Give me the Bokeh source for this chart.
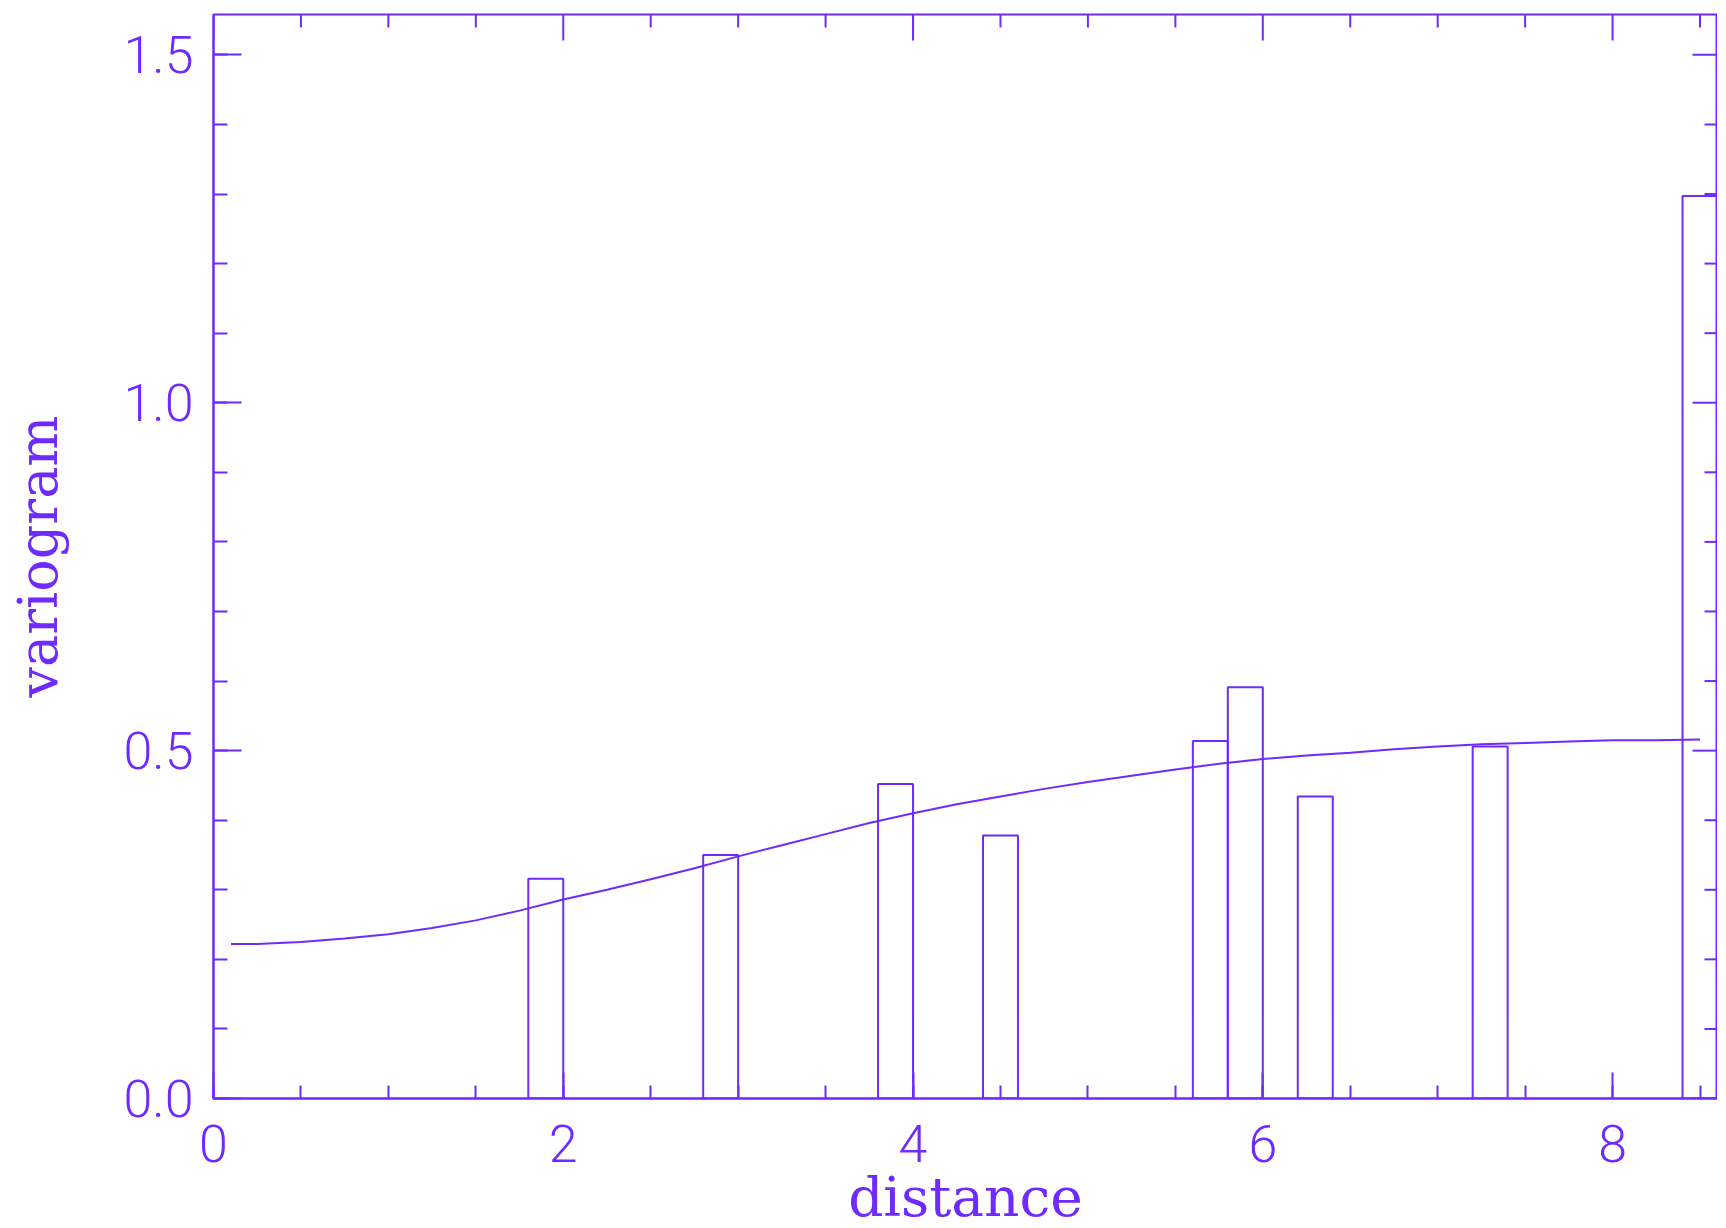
import math
import numpy as np
from bokeh.plotting import figure
from bokeh.models import Range1d, LinearAxis, SingleIntervalTicker, PrintfTickFormatter
from bokeh.embed import file_html
from bokeh.resources import INLINE

# --- data ---
# experimental variogram bins (lag-class centres, bin width 0.2)
lag_centers = [1.9, 2.9, 3.9, 4.5, 5.7, 5.9, 6.3, 7.3, 8.5]
gamma_values = [0.316, 0.350, 0.452, 0.378, 0.514, 0.591, 0.434, 0.506, 1.297]
bin_width = 0.2

# fitted model curve
model_dist = [0.1, 0.25, 0.5, 0.75, 1.0, 1.25, 1.5, 1.75, 2.0, 2.25, 2.5, 2.75,
              3.0, 3.25, 3.5, 3.75, 4.0, 4.25, 4.5, 4.75, 5.0, 5.25, 5.5, 5.75,
              6.0, 6.25, 6.5, 6.75, 7.0, 7.25, 7.5, 7.75, 8.0, 8.25, 8.5]
model_gamma = [0.222, 0.222, 0.225, 0.230, 0.236, 0.245, 0.256, 0.270, 0.286,
               0.300, 0.315, 0.331, 0.348, 0.364, 0.380, 0.396, 0.410, 0.423,
               0.434, 0.445, 0.455, 0.464, 0.473, 0.481, 0.488, 0.493, 0.497,
               0.502, 0.506, 0.509, 0.511, 0.513, 0.515, 0.515, 0.516]

x_label = "distance"
y_label = "variogram"

X_MAX, Y_MAX = 8.6, 1.558
X_MAJOR, X_MINOR = 2.0, 0.5
Y_MAJOR, Y_MINOR = 0.5, 0.1

COL = "#6E2AFF"
TICK_FONT = "Roboto Light"
LABEL_FONT = "DejaVu Serif"

p = figure(frame_width=1504, frame_height=1084,
           x_range=Range1d(0, X_MAX), y_range=Range1d(0, Y_MAX),
           output_backend="svg", toolbar_location=None,
           x_axis_location=None, y_axis_location=None,
           min_border_left=213, min_border_right=0, min_border_top=14,
           min_border_bottom=10)
p.background_fill_color = "white"
p.border_fill_color = "white"
p.outline_line_color = COL
p.outline_line_width = 2
p.xgrid.visible = False
p.ygrid.visible = False

def style_axis(ax, maj, mnr, label_size):
    ax.axis_line_color = COL
    ax.axis_line_width = 2
    ax.major_tick_line_color = COL
    ax.minor_tick_line_color = COL
    ax.major_tick_line_width = 2
    ax.minor_tick_line_width = 2
    ax.major_tick_in = maj
    ax.major_tick_out = 0
    ax.minor_tick_in = mnr
    ax.minor_tick_out = 0
    ax.major_label_text_color = COL
    ax.major_label_text_font = TICK_FONT
    ax.major_label_text_font_size = "52px"
    ax.axis_label_text_color = COL
    ax.axis_label_text_font = LABEL_FONT
    ax.axis_label_text_font_size = label_size
    ax.axis_label_text_font_style = "normal"

xb = LinearAxis(ticker=SingleIntervalTicker(interval=X_MAJOR, num_minor_ticks=4),
                axis_label=x_label)
style_axis(xb, 26, 13, "55px")
xb.major_label_standoff = 26
xb.axis_label_standoff = 0
p.add_layout(xb, "below")

yl = LinearAxis(ticker=SingleIntervalTicker(interval=Y_MAJOR, num_minor_ticks=5),
                formatter=PrintfTickFormatter(format="%.1f"), axis_label=y_label)
style_axis(yl, 28, 14, "54px")
yl.major_label_standoff = 20
yl.axis_label_standoff = 50
p.add_layout(yl, "left")

# mirrored inward ticks on the top and right frame edges (no labels)
x_major_ticks = np.arange(0, X_MAX + 1e-9, X_MAJOR)
x_minor_ticks = np.array([t for t in np.arange(0, X_MAX + 1e-9, X_MINOR)
                          if abs(t / X_MAJOR - round(t / X_MAJOR)) > 1e-6])
y_major_ticks = np.arange(0, Y_MAX + 1e-9, Y_MAJOR)
y_minor_ticks = np.array([t for t in np.arange(0, Y_MAX + 1e-9, Y_MINOR)
                          if abs(t / Y_MAJOR - round(t / Y_MAJOR)) > 1e-6])

p.ray(x=x_major_ticks, y=Y_MAX, length=26, length_units="screen",
      angle=-math.pi / 2, line_color=COL, line_width=2)
p.ray(x=x_minor_ticks, y=Y_MAX, length=13, length_units="screen",
      angle=-math.pi / 2, line_color=COL, line_width=2)
p.ray(x=X_MAX, y=y_major_ticks, length=25, length_units="screen",
      angle=math.pi, line_color=COL, line_width=2)
p.ray(x=X_MAX, y=y_minor_ticks, length=13, length_units="screen",
      angle=math.pi, line_color=COL, line_width=2)

p.vbar(x=lag_centers, top=gamma_values, bottom=0, width=bin_width,
       fill_color=None, line_color=COL, line_width=2)
p.line(model_dist, model_gamma, line_color=COL, line_width=2)

open("out.html", "w").write(file_html(p, INLINE))
